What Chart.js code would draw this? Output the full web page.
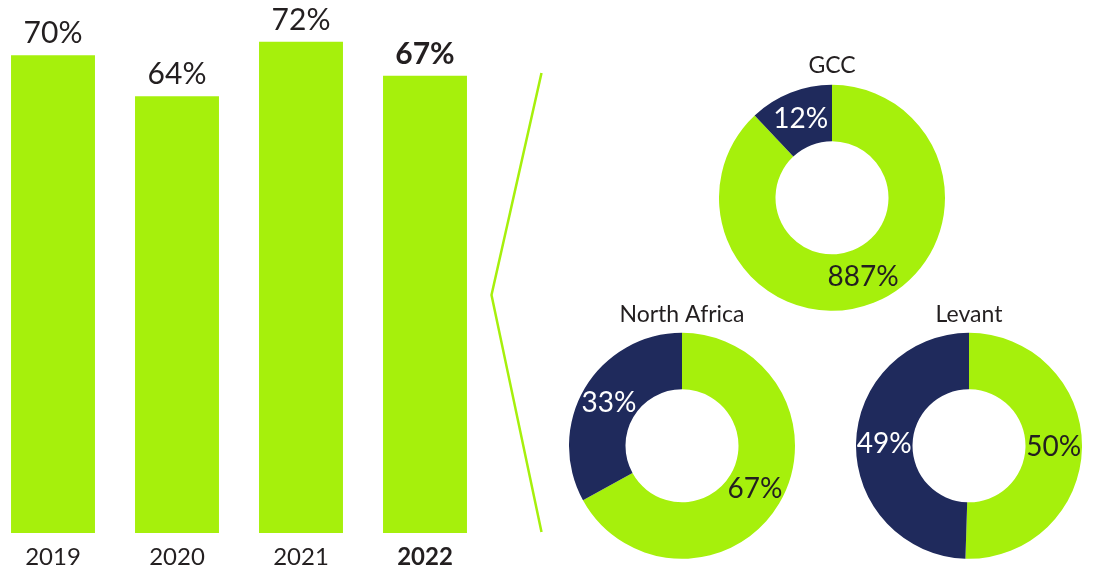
<!DOCTYPE html>
<html>
<head>
<meta charset="utf-8">
<script src="https://cdn.jsdelivr.net/npm/chart.js@4/dist/chart.umd.min.js"></script>
<style>
  html, body { margin: 0; padding: 0; background: #ffffff; }
  body { width: 1095px; height: 571px; position: relative; overflow: hidden; }
  .box { position: absolute; }
  svg { position: absolute; left: 0; top: 0; }
</style>
</head>
<body>
<div class="box" style="left:-9px;top:0;width:496px;height:571px;"><canvas id="bars"></canvas></div>
<svg width="1095" height="571"><polyline points="541.5,73 491.5,295 541.5,532" fill="none" stroke="#a6f00c" stroke-width="2.5"/></svg>
<div class="box" style="left:719px;top:52px;width:226px;height:259px;"><canvas id="gcc"></canvas></div>
<div class="box" style="left:569px;top:301px;width:226px;height:258px;"><canvas id="na"></canvas></div>
<div class="box" style="left:856px;top:301px;width:226px;height:258px;"><canvas id="lev"></canvas></div>
<script>
// ---- data ----
const years = ['2019', '2020', '2021', '2022'];
const yearValues = [70, 64, 72, 67];
const yearLabels = ['70%', '64%', '72%', '67%'];

const regionSegments = ['Share A', 'Share B'];
const gccValues = [88, 12];
const gccLabels = ['887%', '12%'];
const northAfricaValues = [67, 33];
const northAfricaLabels = ['67%', '33%'];
const levantValues = [50, 49];
const levantLabels = ['50%', '49%'];

// ---- styles ----
const GREEN = '#a6f00c';
const NAVY = '#1f2a5c';
const INK = '#231f20';
const FONT = 'Lato, "Open Sans", sans-serif';

const barLabelPlugin = {
  id: 'barLabels',
  afterDatasetsDraw(chart) {
    const ctx = chart.ctx;
    const meta = chart.getDatasetMeta(0);
    ctx.save();
    ctx.textAlign = 'center';
    ctx.textBaseline = 'alphabetic';
    ctx.fillStyle = INK;
    meta.data.forEach((bar, i) => {
      ctx.font = (i === 3 ? 'bold ' : '') + '30px ' + FONT;
      ctx.fillText(yearLabels[i], bar.x, bar.y - 12);
    });
    ctx.restore();
  }
};

new Chart(document.getElementById('bars'), {
  type: 'bar',
  data: {
    labels: years,
    datasets: [{ data: yearValues, backgroundColor: GREEN, borderWidth: 0,
                 barPercentage: 0.677, categoryPercentage: 1 }]
  },
  options: {
    responsive: true, maintainAspectRatio: false, animation: false,
    layout: { padding: 0 },
    plugins: { legend: { display: false }, tooltip: { enabled: false } },
    scales: {
      y: { display: false, min: 0, max: 78.1 },
      x: {
        grid: { display: false }, border: { display: false },
        afterFit(scale) { scale.height = 38; },
        ticks: {
          padding: 2, color: INK,
          font: (c) => ({ family: FONT, size: 24, weight: c.index === 3 ? 'bold' : 'normal' })
        }
      }
    }
  },
  plugins: [barLabelPlugin]
});

function donutLabelPlugin(labels) {
  return {
    id: 'donutLabels',
    afterDatasetsDraw(chart) {
      const ctx = chart.ctx;
      const meta = chart.getDatasetMeta(0);
      ctx.save();
      ctx.textAlign = 'center';
      ctx.textBaseline = 'middle';
      ctx.font = '28px ' + FONT;
      meta.data.forEach((arc, i) => {
        const p = arc.tooltipPosition();
        ctx.fillStyle = i === 0 ? INK : '#ffffff';
        ctx.fillText(labels[i], p.x, p.y);
      });
      ctx.restore();
    }
  };
}

function makeDonut(id, title, values, labels, padBottom) {
  new Chart(document.getElementById(id), {
    type: 'doughnut',
    data: {
      labels: regionSegments,
      datasets: [{ data: values, backgroundColor: [GREEN, NAVY], borderWidth: 0, hoverOffset: 0 }]
    },
    options: {
      responsive: true, maintainAspectRatio: false, animation: false,
      cutout: '50%',
      layout: { padding: 0 },
      plugins: {
        legend: { display: false }, tooltip: { enabled: false },
        title: { display: true, text: title, color: INK,
                 font: { family: FONT, size: 23, weight: 'normal', lineHeight: 1.2 },
                 padding: { top: 0, bottom: padBottom } }
      }
    },
    plugins: [donutLabelPlugin(labels)]
  });
}

makeDonut('gcc', 'GCC', gccValues, gccLabels, 5);
makeDonut('na', 'North Africa', northAfricaValues, northAfricaLabels, 4);
makeDonut('lev', 'Levant', levantValues, levantLabels, 4);
</script>
</body>
</html>
